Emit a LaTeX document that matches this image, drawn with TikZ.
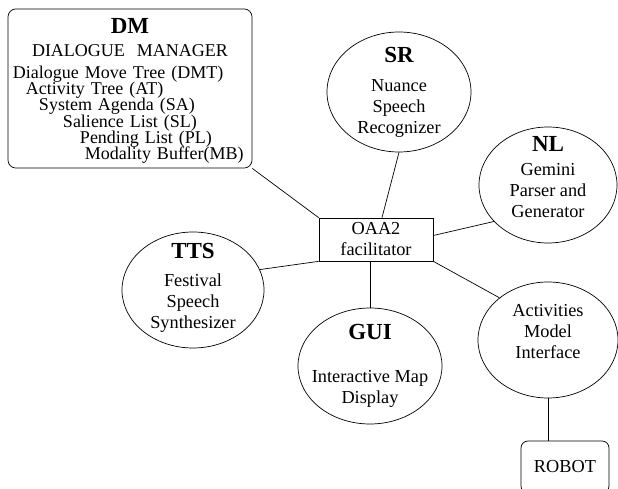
\documentclass[tikz,border=0pt]{standalone}
\usepackage{fontspec}
\setmainfont{Liberation Serif}
\usetikzlibrary{shapes.geometric, positioning}
\newcommand{\modtitle}{\fontsize{23pt}{24pt}\bfseries}
\newcommand{\dmfont}{\fontsize{18pt}{16.1pt}\selectfont\lineskiplimit=-20pt\relax}
\tikzstyle{agent} = [ellipse, draw=black, line width=0.7pt, minimum width=142pt, minimum height=116pt, inner sep=-15pt, align=center, font=\fontsize{18.3pt}{21pt}\selectfont]
\tikzstyle{facil} = [rectangle, draw=black, line width=0.7pt, minimum width=114pt, minimum height=43pt, inner sep=0pt, align=center, font=\fontsize{18.3pt}{21pt}\selectfont]
\tikzstyle{dmbox} = [rectangle, rounded corners=8pt, draw=black, line width=0.7pt, minimum width=244pt, minimum height=159pt, text width=234pt, inner sep=5pt, align=left, font=\dmfont]
\tikzstyle{robotbox} = [rectangle, rounded corners=7pt, draw=black, line width=0.7pt, minimum width=88pt, minimum height=52pt, font=\fontsize{18.3pt}{21pt}\selectfont]
\tikzstyle{conn} = [line width=0.7pt]

\begin{document}
\begin{tikzpicture}[x=1pt, y=1pt, on grid]
	\clip (-376,239.5) rectangle (242,-249.5);
	\node (oaa) [facil] {OAA2\\facilitator};
	\node (dm) [dmbox, above left=151pt and 246pt of oaa] {\makebox[\linewidth]{\modtitle\rule{0pt}{19.5pt}DM}\\[6.5pt]
		\makebox[\linewidth]{DIALOGUE\ \ MANAGER}\\[6.6pt]
		Dialogue Move Tree (DMT)\\
		\hspace*{13pt}Activity Tree (AT)\\
		\hspace*{26pt}System Agenda (SA)\\
		\hspace*{50pt}Salience List (SL)\\
		\hspace*{67pt}Pending List (PL)\\
		\hspace*{72pt}Modality Buffer(MB)};
	\node (sr) [agent, minimum width=144pt, minimum height=120pt, above right=147.5pt and 23pt of oaa] {{\modtitle SR}\\[8pt]Nuance\\Speech\\Recognizer};
	\node (nl) [agent, minimum width=138pt, text depth=16pt, above right=54.5pt and 172pt of oaa] {{\modtitle NL}\\[3pt]Gemini\\Parser and\\Generator};
	\node (tts) [agent, text depth=8pt, below left=50.5pt and 183pt of oaa] {{\modtitle TTS}\\[7pt]Festival\\Speech\\Synthesizer};
	\node (gui) [agent, minimum width=144pt, below left=126.5pt and 6pt of oaa] {{\modtitle GUI}\\[22pt]Interactive Map\\Display};
	\node (act) [agent, minimum width=140pt, text depth=18pt, below right=100.5pt and 172pt of oaa] {Activities\\Model\\Interface};
	\node (robot) [robotbox, below right=127pt and 17pt of act] {ROBOT};
	\draw [conn] (dm.south east) -- (oaa.north west);
	\draw [conn] (sr.south) -- ([xshift=6pt]oaa.north);
	\draw [conn] ([yshift=4pt]oaa.east) -- (nl.214);
	\draw [conn] (tts.17) -- (oaa.south west);
	\draw [conn] (gui.north |- oaa.south) -- (gui.north);
	\draw [conn] (oaa.south east) -- (act.139);
	\draw [conn] (act.south) -- (act.south |- robot.north);
\end{tikzpicture}
\end{document}
